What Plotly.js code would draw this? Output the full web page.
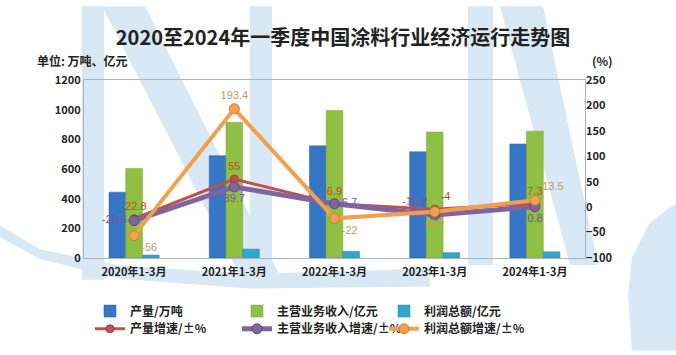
<!DOCTYPE html>
<html><head><meta charset="utf-8">
<script src="https://cdn.plot.ly/plotly-3.0.1.min.js"></script>
<style>html,body{margin:0;padding:0;background:#fff}#c{width:676px;height:355px}</style>
</head><body><div id="c"></div>
<script>
// ---- data ----
const categories = ['2020年1-3月','2021年1-3月','2022年1-3月','2023年1-3月','2024年1-3月'];
const production = [444, 690, 756, 716, 769];      // 产量/万吨
const revenue = [603, 915, 994, 849, 855];          // 主营业务收入/亿元
const profit = [20, 60, 45, 36, 42];                // 利润总额/亿元
const productionGrowth = [-22.8, 55, 6.9, -4, 7.3];   // 产量增速
const revenueGrowth = [-26.6, 39.7, 6.7, -15.2, 0.8]; // 主营业务收入增速
const profitGrowth = [-56, 193.4, -22, -8.9, 13.5];   // 利润总额增速
const leftTicks = [0, 200, 400, 600, 800, 1000, 1200];
const rightTicks = [-100, -50, 0, 50, 100, 150, 200, 250];

// ---- geometry helpers (pixel -> paper) ----
const L = 84, R = 585, T = 80, B = 261;
const px = x => (x - L) / (R - L);
const py = y => (B - y) / (B - T);
const CJK = '"Noto Sans CJK SC", "Noto Sans", sans-serif';
const NUM = '"Liberation Sans", Arial, sans-serif';

const traces = [
  {type:'bar', name:'产量/万吨', x:categories, y:production,
   marker:{color:'#3776c4', line:{color:'#2a5f9e', width:0.5}}},
  {type:'bar', name:'主营业务收入/亿元', x:categories, y:revenue,
   marker:{color:'#8fc043', line:{color:'#76a533', width:0.5}}},
  {type:'bar', name:'利润总额/亿元', x:categories, y:profit,
   marker:{color:'#2fa7cb', line:{color:'#2389a8', width:0.5}}},
  {type:'scatter', mode:'lines+markers+text', name:'产量增速/±%', x:categories, y:productionGrowth,
   yaxis:'y2', legend:'legend2',
   line:{color:'#c0504d', width:3}, marker:{color:'#c0504d', size:8, line:{color:'#9b3b39', width:1}},
   text:productionGrowth.map(String),
   textposition:['top center','top center','top center','top right','top center'],
   textfont:{family:NUM, size:11, color:'#c8461c'}},
  {type:'scatter', mode:'lines+markers+text', name:'主营业务收入增速/±%', x:categories, y:revenueGrowth,
   yaxis:'y2', legend:'legend2',
   line:{color:'#8064a2', width:5}, marker:{color:'#8064a2', size:10, line:{color:'#5e4a7a', width:1}},
   text:revenueGrowth.map(String),
   textposition:['middle left','bottom center','middle right','top left','bottom center'],
   textfont:{family:NUM, size:11, color:'#6b5a9c'}},
  {type:'scatter', mode:'lines+markers+text', name:'利润总额增速/±%', x:categories, y:profitGrowth,
   yaxis:'y2', legend:'legend2',
   line:{color:'#f2a04e', width:4}, marker:{color:'#f2a04e', size:10, line:{color:'#c98236', width:1}},
   text:profitGrowth.map(String),
   textposition:['bottom right','top center','bottom right','bottom center','top right'],
   textfont:{family:NUM, size:11, color:'#c49a6a'}}
];

// watermark (light blue "NCIA" logo behind the chart)
const wm = '#d8e8f4';
function poly(pts){
  return 'M' + pts.map(p => px(p[0]) + ',' + py(p[1])).join(' L') + ' Z';
}
const shapes = [
  {type:'path', xref:'paper', yref:'paper', layer:'below', fillcolor:wm, line:{width:0},
   path: poly([[82,5],[104,5],[104,283],[82,283]])},
  {type:'path', xref:'paper', yref:'paper', layer:'below', fillcolor:wm, line:{width:0},
   path: poly([[102,5],[145,5],[282,283],[242,283]])},
  {type:'path', xref:'paper', yref:'paper', layer:'below', fillcolor:wm, line:{width:0},
   path: poly([[250,5],[272,5],[272,283],[250,283]])},
  {type:'path', xref:'paper', yref:'paper', layer:'below', fillcolor:wm, line:{width:0},
   path: poly([[0,240],[40,262],[120,282],[250,292],[430,290],[430,272],[250,277],[120,269],[40,252],[0,228]])},
  {type:'path', xref:'paper', yref:'paper', layer:'below', fillcolor:wm, line:{width:0},
   path: poly([[468,5],[493,5],[493,268],[468,268]])},
  {type:'path', xref:'paper', yref:'paper', layer:'below', fillcolor:wm, line:{width:0},
   path: poly([[500,5],[543,5],[598,268],[570,268]])},
  {type:'path', xref:'paper', yref:'paper', layer:'below', fillcolor:wm, line:{width:0},
   path: poly([[676,205],[650,225],[632,260],[628,300],[632,355],[676,355]])}
];

const layout = {
  width:676, height:355,
  margin:{l:L, r:676-R, t:T, b:355-B, pad:0},
  paper_bgcolor:'#ffffff', plot_bgcolor:'rgba(0,0,0,0)',
  title:{text:'2020至2024年一季度中国涂料行业经济运行走势图', font:{family:CJK, size:20, color:'#222', weight:'bold'},
         x:343/676, xref:'container', xanchor:'center', y:1-38/355, yref:'container', yanchor:'middle'},
  barmode:'group', bargap:0.5, bargroupgap:0,
  xaxis:{type:'category', showline:true, mirror:true, linecolor:'#a7b5c3', linewidth:1, ticks:'',
         ticklabelstandoff:4,
         tickfont:{family:CJK, size:11, color:'#222', weight:'bold'}, showgrid:false},
  yaxis:{range:[0,1200], tickvals:leftTicks, showgrid:false, zeroline:false, showline:true, mirror:true,
         linecolor:'#a7b5c3', linewidth:1, ticks:'', tickfont:{family:CJK, size:11, color:'#222', weight:'bold'}},
  yaxis2:{range:[-100,250], tickvals:rightTicks, overlaying:'y', side:'right', showgrid:false, zeroline:false,
          showline:false, ticks:'', tickfont:{family:CJK, size:11, color:'#222', weight:'bold'}},
  showlegend:true,
  legend:{orientation:'h', x:px(90), xanchor:'left', y:py(315), yanchor:'middle', bgcolor:'rgba(0,0,0,0)',
          entrywidth:102, font:{family:CJK, size:12, color:'#222', weight:'bold'}, traceorder:'normal'},
  legend2:{orientation:'h', x:px(90), xanchor:'left', y:py(333), yanchor:'middle', bgcolor:'rgba(0,0,0,0)',
          entrywidth:102, font:{family:CJK, size:12, color:'#222', weight:'bold'}, traceorder:'normal'},
  annotations:[
    {text:'单位: 万吨、亿元', xref:'paper', yref:'paper', x:px(35), y:py(60), xanchor:'left', yanchor:'middle',
     showarrow:false, font:{family:CJK, size:12, color:'#222', weight:'bold'}},
    {text:'(%)', xref:'paper', yref:'paper', x:px(590), y:py(60), xanchor:'left', yanchor:'middle',
     showarrow:false, font:{family:CJK, size:12, color:'#222', weight:'bold'}}
  ],
  shapes:shapes
};
Plotly.newPlot('c', traces, layout, {displayModeBar:false, staticPlot:true});
</script></body></html>
